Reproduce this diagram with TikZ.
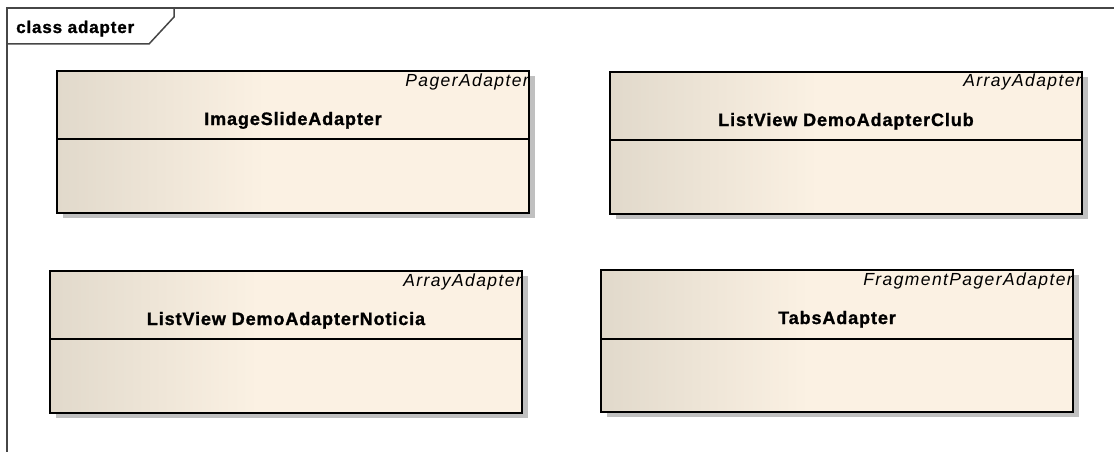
\documentclass[tikz,border=0pt]{standalone}
\usepackage{fontspec}
\setmainfont{Liberation Sans}
\newfontfamily\namefont{Liberation Sans}[LetterSpace=5, BoldFeatures={FakeBold=1.2}]
\newfontfamily\stereofont{Liberation Sans}[LetterSpace=8]
\usetikzlibrary{shadows}

\definecolor{fillleft}{RGB}{225,217,203}
\definecolor{fillright}{RGB}{251,241,227}
\definecolor{shadowgray}{RGB}{192,192,192}
\definecolor{framegray}{RGB}{70,70,70}

% beige class fill: darker at the left, full light from about 45% on
\pgfdeclarehorizontalshading{classfill}{100bp}{%
  color(0bp)=(fillleft); color(25bp)=(fillleft);
  color(47bp)=(fillright); color(100bp)=(fillright)}

\begin{document}
\begin{tikzpicture}[x=1pt,y=-1pt,
  classbox/.style={rectangle, draw=black, line width=2pt, shading=classfill,
    minimum width=472pt, minimum height=142pt, inner sep=0pt,
    drop shadow={shadow xshift=6pt, shadow yshift=-5pt, fill=shadowgray, opacity=1}},
  sepline/.style={draw=black, line width=2pt},
  stereo/.style={inner sep=0pt, font=\stereofont\itshape\fontsize{17.5}{20}\selectfont, anchor=base east},
  cname/.style={inner sep=0pt, font=\namefont\bfseries\fontsize{18}{21}\selectfont, anchor=base},
  frameline/.style={draw=framegray, line width=1.5pt},
  framelabel/.style={inner sep=0pt, font=\namefont\bfseries\fontsize{17}{20}\selectfont, anchor=base west}]
\useasboundingbox (0,0) rectangle (1114,452);

% diagram frame with its name tab
\coordinate (fTL) at (7,8);
\coordinate (fTR) at (1116,8);
\coordinate (fBL) at (7,454);
\coordinate (tabA) at (7,44);
\coordinate (tabB) at (149,44);
\coordinate (tabC) at (174,17);
\coordinate (tabD) at (174,8);
\draw[frameline] (fTR) -- (fTL) -- (fBL);
\draw[frameline] (tabA) -- (tabB) -- (tabC) -- (tabD);
\node[framelabel] (frameName) at (16,33) {class adapter};

% ImageSlideAdapter
\node[classbox] (isa) at (293,142) {};
\draw[sepline] ([yshift=-69pt]isa.north west) -- ([yshift=-69pt]isa.north east);
\node[stereo] (isaS) at ([xshift=-1pt,yshift=-16pt]isa.north east) {PagerAdapter};
\node[cname] (isaN) at ([yshift=-55pt]isa.north) {ImageSlideAdapter};

% ListViewDemoAdapterClub
\node[classbox] (club) at (846,143) {};
\draw[sepline] ([yshift=-69pt]club.north west) -- ([yshift=-69pt]club.north east);
\node[stereo] (clubS) at ([xshift=-1pt,yshift=-16pt]club.north east) {ArrayAdapter};
\node[cname] (clubN) at ([yshift=-55pt]club.north) {ListView DemoAdapterClub};

% ListViewDemoAdapterNoticia
\node[classbox] (noti) at (286,342) {};
\draw[sepline] ([yshift=-69pt]noti.north west) -- ([yshift=-69pt]noti.north east);
\node[stereo] (notiS) at ([xshift=-1pt,yshift=-16pt]noti.north east) {ArrayAdapter};
\node[cname] (notiN) at ([yshift=-55pt]noti.north) {ListView DemoAdapterNoticia};

% TabsAdapter
\node[classbox] (tabs) at (837,341) {};
\draw[sepline] ([yshift=-70pt]tabs.north west) -- ([yshift=-70pt]tabs.north east);
\node[stereo] (tabsS) at ([xshift=-1pt,yshift=-16pt]tabs.north east) {FragmentPagerAdapter};
\node[cname] (tabsN) at ([yshift=-55pt]tabs.north) {TabsAdapter};
\end{tikzpicture}
\end{document}
